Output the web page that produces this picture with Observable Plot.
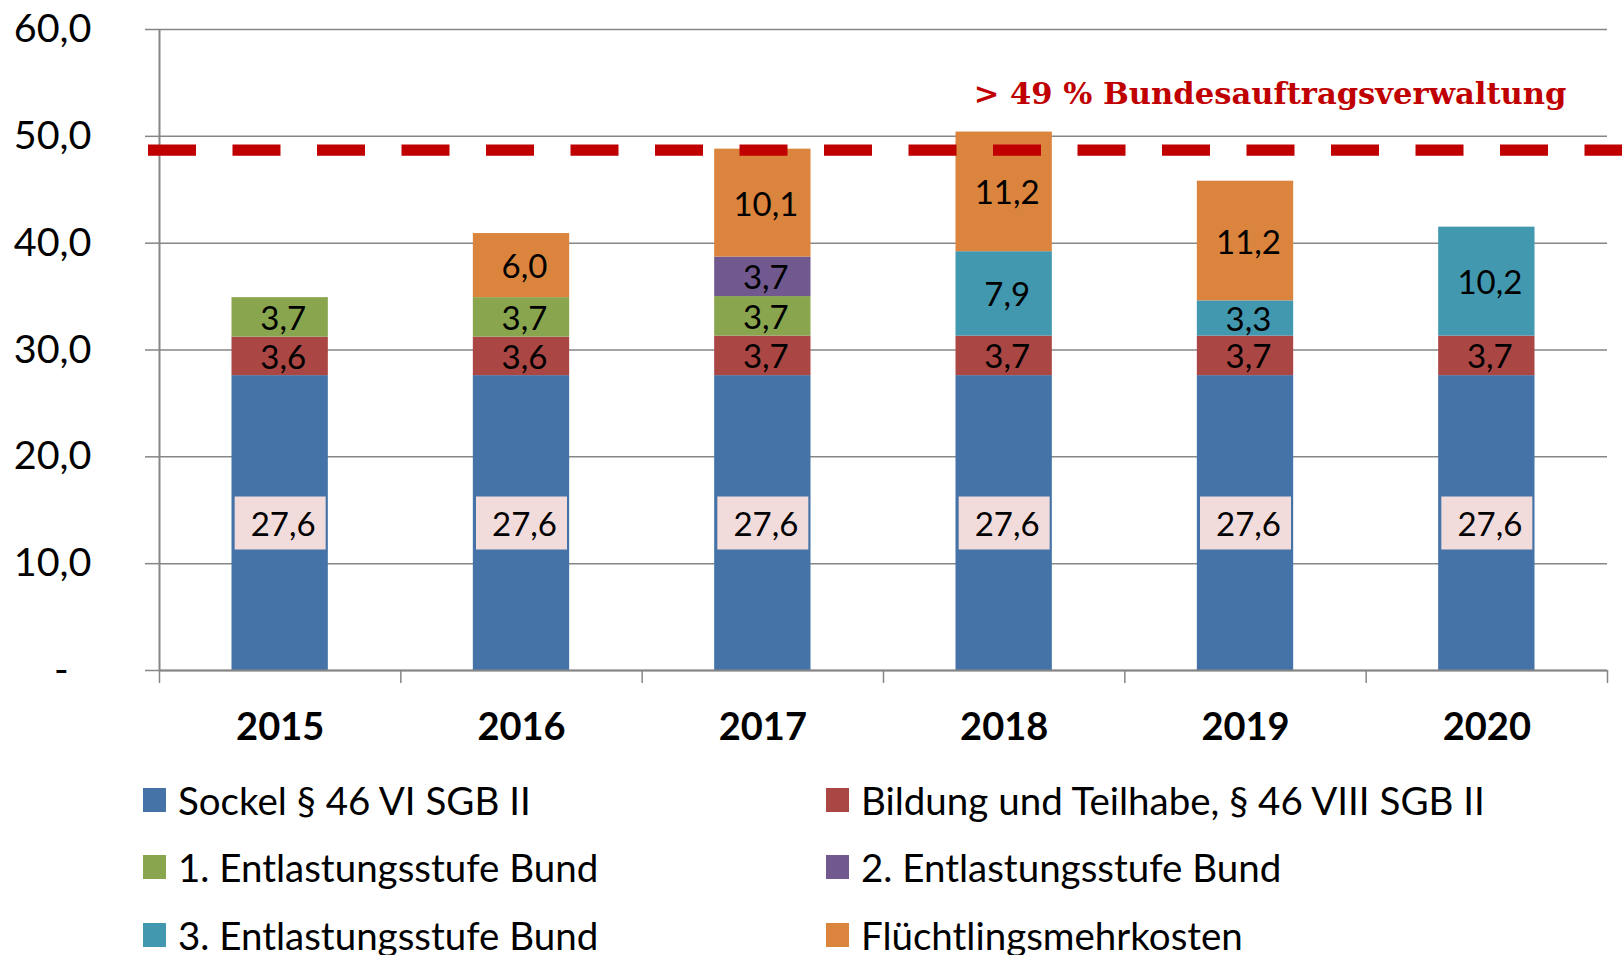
<!DOCTYPE html>
<html><head><meta charset="utf-8">
<script src="https://cdn.jsdelivr.net/npm/d3@7"></script>
<script src="https://cdn.jsdelivr.net/npm/@observablehq/plot@0.6"></script>
<style>
body{margin:0;background:#fff;font-family:Lato,sans-serif;}
#chart svg{display:block;}
#legend{display:grid;grid-template-columns:683px 700px;padding-left:143px;padding-top:6px;}
.item{display:flex;align-items:center;height:67.5px;font-size:38.5px;line-height:1;color:#000;white-space:nowrap;}
.sw{width:23px;height:24px;margin-right:12px;flex:none;}
</style></head><body>
<div id="chart"></div><div id="legend"></div>
<script>
const years = ["2015", "2016", "2017", "2018", "2019", "2020"];
const series = [
  "Sockel § 46 VI SGB II",
  "Bildung und Teilhabe, § 46 VIII SGB II",
  "1. Entlastungsstufe Bund",
  "2. Entlastungsstufe Bund",
  "3. Entlastungsstufe Bund",
  "Flüchtlingsmehrkosten"
];
const colors = ["#4572A7", "#AA4643", "#89A54E", "#71588F", "#4198AF", "#DB843D"];
const sockel   = [27.6, 27.6, 27.6, 27.6, 27.6, 27.6];
const bildung  = [3.6, 3.6, 3.7, 3.7, 3.7, 3.7];
const entl1    = [3.7, 3.7, 3.7, null, null, null];
const entl2    = [null, null, 3.7, null, null, null];
const entl3    = [null, null, null, 7.9, 3.3, 10.2];
const fluecht  = [null, 6.0, 10.1, 11.2, 11.2, null];
const yTicks = [0, 10, 20, 30, 40, 50, 60];
const threshold = 48.7;
const thresholdLabel = "> 49 % Bundesauftragsverwaltung";

const valuesBySeries = [sockel, bildung, entl1, entl2, entl3, fluecht];
const rows = [];
series.forEach((s, k) => valuesBySeries[k].forEach((v, i) => {
  if (v != null) rows.push({year: years[i], i, series: s, value: v});
}));
const fmt = v => v.toFixed(1).replace(".", ",");
const boxSymbol = {draw(ctx) { ctx.rect(-45.5, -26.5, 91, 53); }};

const chart = Plot.plot({
  width: 1622, height: 760,
  marginLeft: 159, marginRight: 15, marginTop: 29, marginBottom: 90,
  style: {fontFamily: "Lato, sans-serif", background: "#fff", color: "#000"},
  x: {type: "linear", domain: [0, years.length], label: null},
  y: {domain: [0, 60], label: null},
  color: {domain: series, range: colors},
  marks: [
    Plot.gridY(yTicks, {stroke: "#868686", strokeOpacity: 1, strokeWidth: 1.5}),
    Plot.rectY(rows, {x1: "i", x2: d => d.i + 1, y: "value", fill: "series", insetLeft: 72.5, insetRight: 72.5}),
    Plot.dot(rows.filter(d => d.series === series[0]), Plot.stackY({x: d => d.i + 0.5, y: "value", z: "series", symbol: boxSymbol, fill: "#F2DCDB", r: 10})),
    Plot.text(rows, Plot.stackY({x: d => d.i + 0.5, y: "value", z: "series", text: d => fmt(d.value), fontSize: 33, fill: "#000", dx: 3, dy: 2})),
    Plot.ruleY([0], {stroke: "#868686", strokeWidth: 2}),
    Plot.ruleX([0], {stroke: "#868686", strokeWidth: 2}),
    Plot.axisY(yTicks, {tickSize: 14, tickPadding: 54, tickFormat: d => d === 0 ? "-\u2007" : fmt(d), fontSize: 39.5, stroke: "#868686", strokeWidth: 1.5, fill: "#000", label: null}),
    Plot.axisX(d3.range(years.length + 1), {tickSize: 13, tickFormat: () => "", stroke: "#868686", strokeWidth: 1.5, label: null}),
    Plot.axisX(years.map((d, i) => i + 0.5), {tickSize: 0, tickPadding: 43, tickFormat: v => years[Math.floor(v)], fontSize: 38, fontWeight: "bold", fill: "#000", label: null}),
    Plot.ruleY([threshold], {stroke: "#C00000", strokeWidth: 11.3, strokeDasharray: "48,36.5", insetLeft: -11, insetRight: -15}),
    Plot.text([thresholdLabel], {frameAnchor: "top-right", text: d => d, dx: -41, dy: 65, fontSize: 30.6, fontFamily: "DejaVu Serif", fontWeight: "bold", fill: "#C00000", textAnchor: "end", lineAnchor: "middle"})
  ]
});
document.getElementById("chart").appendChild(chart);

const legend = document.getElementById("legend");
series.forEach((s, k) => {
  const item = document.createElement("div");
  item.className = "item";
  const sw = document.createElement("span");
  sw.className = "sw";
  sw.style.background = colors[k];
  item.appendChild(sw);
  item.appendChild(document.createTextNode(s));
  legend.appendChild(item);
});
</script>
</body></html>
